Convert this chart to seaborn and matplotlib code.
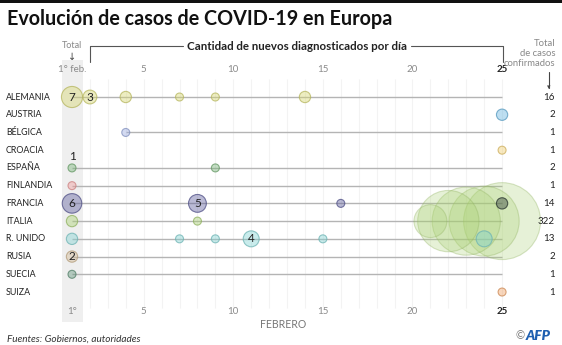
import numpy as np
import pandas as pd
import seaborn as sns
import matplotlib
matplotlib.use("Agg")
import matplotlib.pyplot as plt
from matplotlib.lines import Line2D
from matplotlib.patches import Rectangle

# ---- data: new cases per day of February (day 1 = total up to 1 Feb) ----
countries = ["ALEMANIA", "AUSTRIA", "BÉLGICA", "CROACIA", "ESPAÑA", "FINLANDIA",
             "FRANCIA", "ITALIA", "R. UNIDO", "RUSIA", "SUECIA", "SUIZA"]

days_alemania = [1, 2, 4, 7, 9, 14]
cases_alemania = [7, 3, 2, 1, 1, 2]
days_austria = [25]
cases_austria = [2]
days_belgica = [4]
cases_belgica = [1]
days_croacia = [25]
cases_croacia = [1]
days_espana = [1, 9]
cases_espana = [1, 1]
days_finlandia = [1]
cases_finlandia = [1]
days_francia = [1, 8, 16, 25]
cases_francia = [6, 5, 1, 2]
days_italia = [1, 8, 21, 22, 23, 24, 25]
cases_italia = [2, 1, 17, 59, 73, 77, 93]
days_reino_unido = [1, 7, 9, 11, 15, 24]
cases_reino_unido = [2, 1, 1, 4, 1, 4]
days_rusia = [1]
cases_rusia = [2]
days_suecia = [1]
cases_suecia = [1]
days_suiza = [25]
cases_suiza = [1]

series = {
    "ALEMANIA": (days_alemania, cases_alemania),
    "AUSTRIA": (days_austria, cases_austria),
    "BÉLGICA": (days_belgica, cases_belgica),
    "CROACIA": (days_croacia, cases_croacia),
    "ESPAÑA": (days_espana, cases_espana),
    "FINLANDIA": (days_finlandia, cases_finlandia),
    "FRANCIA": (days_francia, cases_francia),
    "ITALIA": (days_italia, cases_italia),
    "R. UNIDO": (days_reino_unido, cases_reino_unido),
    "RUSIA": (days_rusia, cases_rusia),
    "SUECIA": (days_suecia, cases_suecia),
    "SUIZA": (days_suiza, cases_suiza),
}

# bubbles that carry their number
labelled = [("ALEMANIA", 1), ("ALEMANIA", 2), ("FRANCIA", 1), ("FRANCIA", 8),
            ("R. UNIDO", 11), ("RUSIA", 1)]
labelled_above = [("ESPAÑA", 1)]

palette = {
    "ALEMANIA": "#d6d66e", "AUSTRIA": "#62b2de", "BÉLGICA": "#97a8de",
    "CROACIA": "#f0cc6b", "ESPAÑA": "#74b274", "FINLANDIA": "#f09797",
    "FRANCIA": "#5c5c9c", "ITALIA": "#a8d070", "R. UNIDO": "#80d2d2",
    "RUSIA": "#d2b890", "SUECIA": "#5e9478", "SUIZA": "#f0a062",
    "FRANCIA-25": "#2c3a34",
}

rows = []
for i, c in enumerate(countries):
    d, v = series[c]
    for dd, vv in zip(d, v):
        tone = "FRANCIA-25" if (c == "FRANCIA" and dd == 25) else c
        rows.append({"country": c, "row": i, "day": dd, "cases": vv, "tone": tone})
df = pd.DataFrame(rows).sort_values("cases", ascending=False, kind="stable")
totals = [int(np.sum(series[c][1])) for c in countries]

# ---- figure ----
W, H = 562, 345
sns.set_theme(style="white")
plt.rcParams["font.family"] = ["Lato", "DejaVu Sans"]
fig = plt.figure(figsize=(W / 100, H / 100), dpi=100)
fig.patch.set_facecolor("white")

def fx(px):
    return px / W

def fy(py):
    return 1 - py / H

ax_l, ax_r, ax_t, ax_b = 60, 515, 60, 322
ax = fig.add_axes([fx(ax_l), fy(ax_b), fx(ax_r - ax_l), (ax_b - ax_t) / H])
px_day, day1_px = 17.92, 72
px_row, row0_px = 17.73, 97
ax.set_xlim(1 + (ax_l - day1_px) / px_day, 1 + (ax_r - day1_px) / px_day)
ax.set_ylim((ax_b - row0_px) / px_row, (ax_t - row0_px) / px_row)
ax.axis("off")

# grey column for the totals up to 1 Feb
ax.axvspan(0.45, 1.6, color="#efefef", zorder=0, lw=0)
# faint day grid
ax.vlines(np.arange(2, 26), -1.0, 11.9, color="#f3f3f3", lw=0.8, zorder=0.5)

# country lines from first case to 25 Feb
for i, c in enumerate(countries):
    d, _ = series[c]
    if min(d) < 25:
        ax.hlines(i, min(d), 25, color="#b4b4b4", lw=1.0, zorder=1)

scale = 33.0  # points^2 per case
sns.scatterplot(data=df, x="day", y="row", hue="tone", palette=palette,
                size="cases", sizes=(0, scale * 93), size_norm=(0, 93),
                legend=False, ax=ax, zorder=2, linewidth=0.8)
coll = ax.collections[-1]
fc = coll.get_facecolors()
edge = fc.copy()
edge[:, :3] = edge[:, :3] * 0.85
big = df["cases"].to_numpy() > 10
edge[:, 3] = np.where(big, 0.35, 0.75)
fc[:, 3] = np.where(big, 0.28, 0.42)
coll.set_facecolors(fc)
coll.set_edgecolors(edge)
coll.set_linewidths(0.8)
coll.set_clip_on(False)

for c, d in labelled:
    i = countries.index(c)
    v = series[c][1][series[c][0].index(d)]
    ax.text(d, i, str(v), ha="center", va="center", fontsize=8.5, color="#222222", zorder=5)
for c, d in labelled_above:
    i = countries.index(c)
    v = series[c][1][series[c][0].index(d)]
    ax.text(d, i - 0.62, str(v), ha="center", va="center", fontsize=8.5, color="#222222", zorder=5)

# country names and totals
for i, c in enumerate(countries):
    y = row0_px + i * px_row
    fig.text(fx(6), fy(y), c, ha="left", va="center", fontsize=6.4, color="#222222")
    fig.text(fx(555), fy(y), str(totals[i]), ha="right", va="center", fontsize=7, color="#222222")

# day tick labels, top and bottom
tick_days = [1, 5, 10, 15, 20, 25]
for d in tick_days:
    x = day1_px + (d - 1) * px_day
    bold = d == 25
    col = "#222222" if bold else "#8a8a8a"
    top = "1° feb." if d == 1 else str(d)
    bot = "1°" if d == 1 else str(d)
    fig.text(fx(x), fy(70), top, ha="center", va="center", fontsize=7,
             color=col, fontweight="bold" if bold else "normal")
    fig.text(fx(x), fy(312), bot, ha="center", va="center", fontsize=7,
             color=col, fontweight="bold" if bold else "normal")
fig.text(fx(283), fy(325), "FEBRERO", ha="center", va="center", fontsize=7.6,
         color="#777777")

# header annotations
fig.text(fx(72), fy(46), "Total", ha="center", va="center", fontsize=6.5, color="#888888")
fig.text(fx(72), fy(57), "↓", ha="center", va="center", fontsize=7, color="#444444",
         family=["DejaVu Sans"])
fig.text(fx(297), fy(46), "Cantidad de nuevos diagnosticados por día", ha="center",
         va="center", fontsize=8.3, fontweight="bold", color="#222222")
lc = "#555555"
fig.add_artist(Line2D([fx(90), fx(90), fx(183)], [fy(62), fy(46), fy(46)], color=lc, lw=0.8))
fig.add_artist(Line2D([fx(411), fx(503), fx(503)], [fy(46), fy(46), fy(62)], color=lc, lw=0.8))
for k, t in enumerate(["Total", "de casos", "confirmados"]):
    fig.text(fx(555), fy(43 + 10 * k), t, ha="right", va="center", fontsize=6.8, color="#888888")
fig.add_artist(Line2D([fx(549), fx(549)], [fy(72), fy(88)], color="#444444", lw=0.8))
fig.text(fx(549), fy(87), "▾", ha="center", va="center", fontsize=5, color="#444444",
         family=["DejaVu Sans"])

# title, top rule, footer
fig.add_artist(Rectangle((0, fy(3)), 1, 3 / H, color="#111111", lw=0))
fig.text(fx(7), fy(19), "Evolución de casos de COVID-19 en Europa", ha="left", va="center",
         fontsize=14.2, fontweight="bold", color="#111111")
fig.text(fx(7), fy(339), "Fuentes: Gobiernos, autoridades", ha="left", va="center",
         fontsize=7.2, style="italic", color="#333333")
fig.text(fx(525), fy(336), "©", ha="right", va="center", fontsize=8, color="#777777")
fig.text(fx(526), fy(336), "AFP", ha="left", va="center", fontsize=10, color="#1f5fb0",
         fontweight="heavy", style="italic")

fig.savefig("out.png", dpi=100, facecolor="white")
